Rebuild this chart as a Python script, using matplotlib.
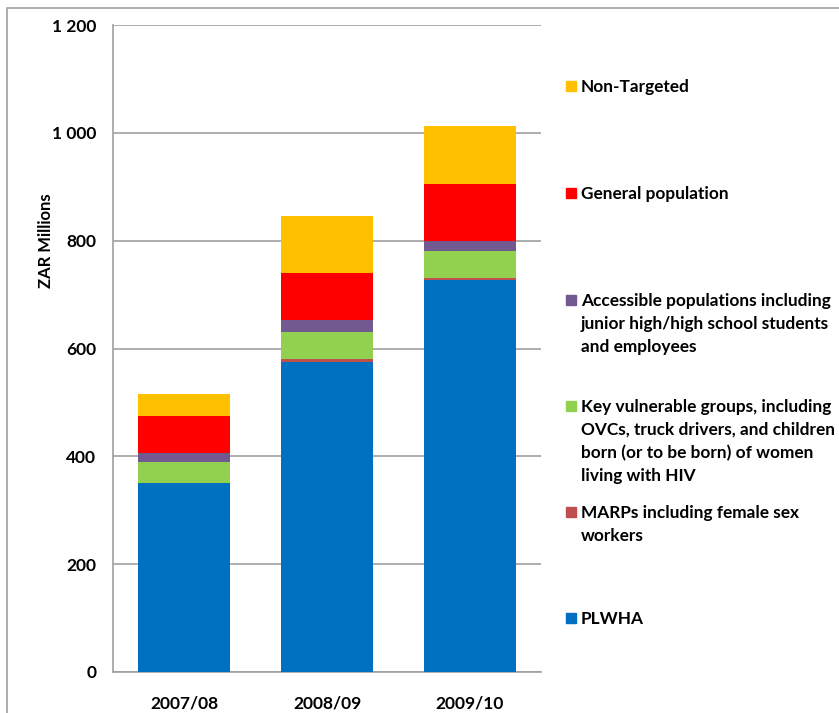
import matplotlib.pyplot as plt
import matplotlib.patches as mpatches
import numpy as np

plt.rcParams['font.family'] = ['Lato', 'DejaVu Sans']
plt.rcParams['font.weight'] = 'bold'

# Data (ZAR millions)
years = ['2007/08', '2008/09', '2009/10']
plwha = [350, 575, 727]
marps = [1, 5, 4]
key_vulnerable = [38, 51, 49]
accessible = [17, 22, 19]
general_pop = [69, 87, 106]
non_targeted = [40, 106, 107]

series = [plwha, marps, key_vulnerable, accessible, general_pop, non_targeted]
colors = ['#0070C0', '#C0504D', '#92D050', '#725990', '#FF0000', '#FFC000']
labels = ['PLWHA',
          'MARPs including female sex\nworkers',
          'Key vulnerable groups, including\nOVCs, truck drivers, and children\nborn (or to be born) of women\nliving with HIV',
          'Accessible populations including\njunior high/high school students\nand employees',
          'General population',
          'Non-Targeted']
# legend row centers (px from top)
legend_y = [618, 512, 406, 300, 193, 86]

W, H = 839, 713
fig = plt.figure(figsize=(W / 100, H / 100), dpi=100)
ax = fig.add_axes([113 / W, 1 - 672 / H, 428 / W, 647 / H])

x = np.arange(len(years))
bottom = np.zeros(len(years))
for vals, c in zip(series, colors):
    ax.bar(x, vals, width=0.646, bottom=bottom, color=c, zorder=3)
    bottom += np.array(vals)

ax.set_xlim(-0.5, 2.5)
ax.set_ylim(0, 1200)
ax.set_yticks(range(0, 1201, 200))
ax.set_yticklabels(['0', '200', '400', '600', '800', '1 000', '1 200'], fontsize=12.5)
ax.set_xticks(x)
ax.set_xticklabels(years, fontsize=12.5)
ax.tick_params(axis='y', length=0, pad=12)
ax.tick_params(axis='x', length=0, pad=17)
ax.yaxis.grid(True, color='#a0a0a0', linewidth=1.2, zorder=0)
for s in ['top', 'right']:
    ax.spines[s].set_visible(False)
for s in ['left', 'bottom']:
    ax.spines[s].set_color('#a0a0a0')
    ax.spines[s].set_linewidth(1.2)

ax.set_ylabel('ZAR Millions', fontsize=12, fontweight='bold')
ax.yaxis.set_label_coords((54 - 113) / 428, (672 - 241) / 647)

# manual legend on the right
for lab, c, yc in zip(labels, colors, legend_y):
    fig.patches.append(mpatches.Rectangle((566 / W, 1 - (yc + 5) / H), 10 / W, 10 / H,
                                          transform=fig.transFigure, color=c, figure=fig))
    fig.text(581 / W, 1 - (yc - 7) / H, lab, fontsize=12.4, va='top', ha='left',
             linespacing=1.52)

# outer frame
fig.patches.append(mpatches.Rectangle((7 / W, -0.1), 1.2, 1 - 8 / H + 0.1,
                                      transform=fig.transFigure, fill=False,
                                      edgecolor='#a0a0a0', linewidth=1.2, figure=fig))

fig.savefig('out.png', dpi=100)
